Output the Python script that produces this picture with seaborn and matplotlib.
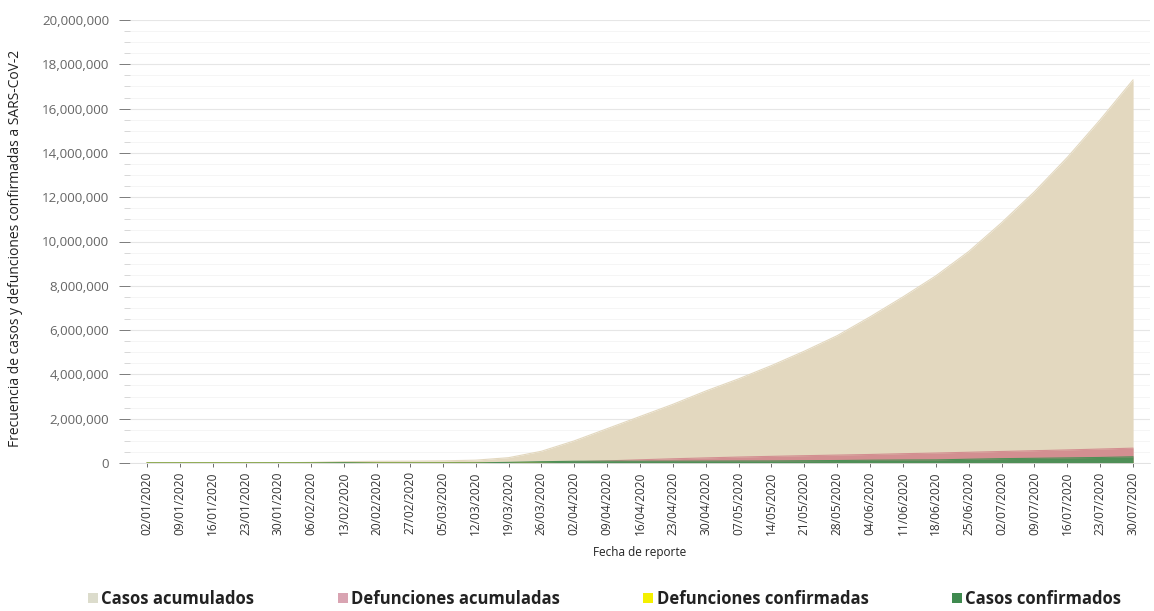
import matplotlib
matplotlib.use("Agg")
import matplotlib.pyplot as plt
import matplotlib.dates as mdates
from matplotlib.ticker import MultipleLocator, FuncFormatter
from matplotlib.lines import Line2D
import seaborn as sns
import pandas as pd

# ---- data (weekly readings from the reference) ----
fechas = ["02/01/2020", "09/01/2020", "16/01/2020", "23/01/2020", "30/01/2020",
          "06/02/2020", "13/02/2020", "20/02/2020", "27/02/2020", "05/03/2020",
          "12/03/2020", "19/03/2020", "26/03/2020", "02/04/2020", "09/04/2020",
          "16/04/2020", "23/04/2020", "30/04/2020", "07/05/2020", "14/05/2020",
          "21/05/2020", "28/05/2020", "04/06/2020", "11/06/2020", "18/06/2020",
          "25/06/2020", "02/07/2020", "09/07/2020", "16/07/2020", "23/07/2020",
          "30/07/2020"]
casos_acumulados = [0, 41, 45, 580, 8000, 28000, 60000, 76000, 83000, 97000,
                    128000, 240000, 530000, 1000000, 1550000, 2100000, 2650000,
                    3250000, 3800000, 4400000, 5050000, 5750000, 6600000, 7500000,
                    8450000, 9550000, 10850000, 12250000, 13800000, 15500000, 17300000]
defunciones_acumuladas = [0, 1, 2, 17, 170, 560, 1370, 2120, 2800, 3350,
                          4600, 10000, 24000, 52000, 95000, 145000, 190000,
                          230000, 268000, 300000, 330000, 357000, 385000, 420000,
                          450000, 485000, 520000, 555000, 590000, 630000, 670000]
defunciones_confirmadas = [0, 0, 0, 8, 40, 70, 250, 100, 60, 100,
                           300, 1000, 2400, 5500, 6500, 7500, 6500,
                           5800, 5400, 5000, 4500, 4300, 4500, 4700,
                           4800, 5000, 5200, 5300, 5600, 5900, 6200]
casos_confirmados = [0, 0, 1, 100, 1700, 3000, 15000, 500, 1300, 2300,
                     6000, 28000, 58000, 78000, 82000, 80000, 82000,
                     86000, 90000, 92000, 103000, 112000, 126000, 135000,
                     140000, 170000, 196000, 212000, 230000, 250000, 280000]

df = pd.DataFrame({
    "fecha": pd.to_datetime(fechas, format="%d/%m/%Y"),
    "Casos acumulados": casos_acumulados,
    "Defunciones acumuladas": defunciones_acumuladas,
    "Defunciones confirmadas": defunciones_confirmadas,
    "Casos confirmados": casos_confirmados,
})

colores = {
    "Casos acumulados": "#e3d8bf",
    "Defunciones acumuladas": "#d38f91",
    "Defunciones confirmadas": "#f2ee1a",
    "Casos confirmados": "#4f8f57",
}
legend_colors = {
    "Casos acumulados": "#dcdccc",
    "Defunciones acumuladas": "#d9a4b2",
    "Defunciones confirmadas": "#f4f000",
    "Casos confirmados": "#3f8a4f",
}

sns.set_theme(style="white")
plt.rcParams["font.family"] = ["Open Sans", "DejaVu Sans"]

fig = plt.figure(figsize=(11.54, 6.11), dpi=100)
ax = fig.add_axes([130 / 1154, 1 - 463 / 611, (1150 - 130) / 1154, (463 - 20) / 611])

for serie in ["Casos acumulados", "Defunciones acumuladas",
              "Defunciones confirmadas", "Casos confirmados"]:
    sns.lineplot(data=df, x="fecha", y=serie, ax=ax, color=colores[serie],
                 linewidth=0.8, legend=False)
    ax.fill_between(df["fecha"], 0, df[serie], color=colores[serie],
                    linewidth=0, zorder=2)

x0 = df["fecha"].iloc[0] - pd.Timedelta(days=3.6)
x1 = df["fecha"].iloc[-1] + pd.Timedelta(days=3.6)
ax.set_xlim(x0, x1)
ax.set_ylim(0, 20000000)

ax.set_xticks(df["fecha"])
ax.xaxis.set_major_formatter(mdates.DateFormatter("%d/%m/%Y"))
ax.yaxis.set_major_locator(MultipleLocator(2000000))
ax.yaxis.set_minor_locator(MultipleLocator(500000))
ax.yaxis.set_major_formatter(FuncFormatter(lambda v, p: f"{int(v):,}"))

ax.grid(axis="y", which="major", color="#e6e6e6", linewidth=0.8, zorder=0)
ax.grid(axis="y", which="minor", color="#f4f4f4", linewidth=0.6, zorder=0)
ax.grid(axis="x", visible=False)
ax.set_axisbelow(True)

for s in ["top", "right", "left"]:
    ax.spines[s].set_visible(False)
ax.spines["bottom"].set_color("#dddddd")
ax.spines["bottom"].set_linewidth(0.6)

ax.tick_params(axis="x", labelrotation=90, labelsize=8.6, colors="#555555",
               length=3, width=0.6, pad=3, bottom=True)
ax.tick_params(axis="y", which="major", labelsize=9.6, colors="#666666",
               length=8, width=0.6, pad=7, left=True)
ax.tick_params(axis="y", which="minor", length=4, width=0.5, colors="#c8c8c8",
               left=True)
for lbl in ax.get_xticklabels():
    lbl.set_color("#333333")

ax.set_xlabel("Fecha de reporte", fontsize=8.5, color="#222222", labelpad=8)
ax.set_ylabel("Frecuencia de casos y defunciones confirmadas a SARS-CoV-2",
              fontsize=10, color="#222222")
ax.yaxis.set_label_coords(-107 / 1020, 0.485)

handles = [Line2D([0], [0], marker="s", linestyle="", markersize=7,
                  markerfacecolor=legend_colors[k], markeredgewidth=0,
                  label=k) for k in legend_colors]
leg = fig.legend(handles=handles, loc="center", bbox_to_anchor=(603 / 1154, 1 - 599 / 611),
                 ncol=4, frameon=False, handletextpad=0.0, columnspacing=4.8,
                 handlelength=1.0,
                 prop={"family": ["Open Sans", "DejaVu Sans"], "weight": "bold", "size": 12})
for t in leg.get_texts():
    t.set_color("#222222")

fig.savefig("out.png", dpi=100)
